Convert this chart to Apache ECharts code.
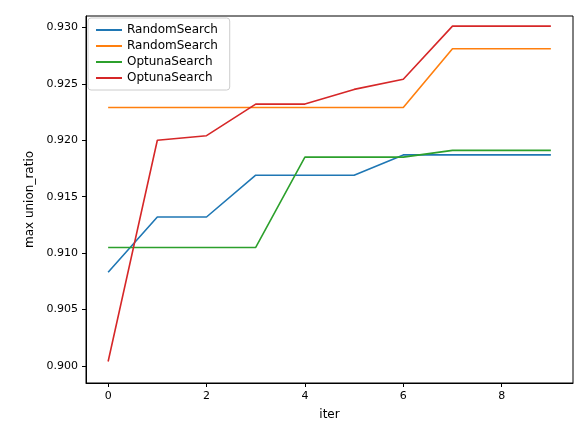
<!DOCTYPE html>
<html><head><meta charset="utf-8">
<script src="https://cdn.jsdelivr.net/npm/echarts@6/dist/echarts.min.js"></script>
<style>html,body{margin:0;padding:0;background:#fff}#c{width:585px;height:432px}</style>
</head><body><div id="c"></div>
<script>
// ── data ──
const iters = [0, 1, 2, 3, 4, 5, 6, 7, 8, 9];
const randomA = [0.9083, 0.9132, 0.9132, 0.9169, 0.9169, 0.9169, 0.9187, 0.9187, 0.9187, 0.9187];
const randomB = [0.9229, 0.9229, 0.9229, 0.9229, 0.9229, 0.9229, 0.9229, 0.9281, 0.9281, 0.9281];
const optunaA = [0.9105, 0.9105, 0.9105, 0.9105, 0.9185, 0.9185, 0.9185, 0.9191, 0.9191, 0.9191];
const optunaB = [0.9004, 0.9200, 0.9204, 0.9232, 0.9232, 0.9245, 0.9254, 0.9301, 0.9301, 0.9301];
const names = ['RandomSearch', 'RandomSearch', 'OptunaSearch', 'OptunaSearch'];
const colors = ['#1f77b4', '#ff7f0e', '#2ca02c', '#d62728'];
const xTicks = [0, 2, 4, 6, 8];
const yTicks = [0.9, 0.905, 0.91, 0.915, 0.92, 0.925, 0.93];

const font = 'DejaVu Sans';
const chart = echarts.init(document.getElementById('c'));
const allData = [randomA, randomB, optunaA, optunaB];
chart.setOption({
  animation: false,
  textStyle: { fontFamily: font },
  grid: { left: 86, right: 12, top: 16, bottom: 49, show: true, borderColor: '#000', borderWidth: 1 },
  legend: {
    left: 88, top: 18, orient: 'vertical', itemGap: 4,
    itemWidth: 26, itemHeight: 2,
    padding: [6, 8], borderColor: '#ccc', borderWidth: 1, borderRadius: 3,
    backgroundColor: 'rgba(255,255,255,0.8)',
    textStyle: { fontSize: 12, color: '#000', fontFamily: font },
    data: [0, 1, 2, 3].map(i => ({ name: names[i] + (i % 2 ? ' ' : ''), icon: 'rect' }))
  },
  xAxis: {
    type: 'value', min: -0.45, max: 9.45,
    name: 'iter', nameLocation: 'middle', nameGap: 26,
    nameTextStyle: { fontSize: 12, color: '#000' },
    axisLine: { onZero: false, lineStyle: { color: '#000' } },
    axisTick: { show: true, length: 4, lineStyle: { color: '#000' }, customValues: xTicks },
    axisLabel: { fontSize: 11, color: '#000', customValues: xTicks },
    splitLine: { show: false }
  },
  yAxis: {
    type: 'value', min: 0.8985, max: 0.931,
    name: 'max union_ratio', nameLocation: 'middle', nameGap: 50,
    nameTextStyle: { fontSize: 12, color: '#000' },
    axisLine: { show: true, onZero: false, lineStyle: { color: '#000' } },
    axisTick: { show: true, length: 4, lineStyle: { color: '#000' }, customValues: yTicks },
    axisLabel: { fontSize: 11, color: '#000', formatter: v => v.toFixed(3), customValues: yTicks },
    splitLine: { show: false }
  },
  series: allData.map((d, i) => ({
    name: names[i] + (i % 2 ? ' ' : ''), type: 'line', symbol: 'none',
    data: d.map((v, j) => [iters[j], v]),
    lineStyle: { width: 1.6, color: colors[i] }, itemStyle: { color: colors[i] }
  }))
});
</script></body></html>
